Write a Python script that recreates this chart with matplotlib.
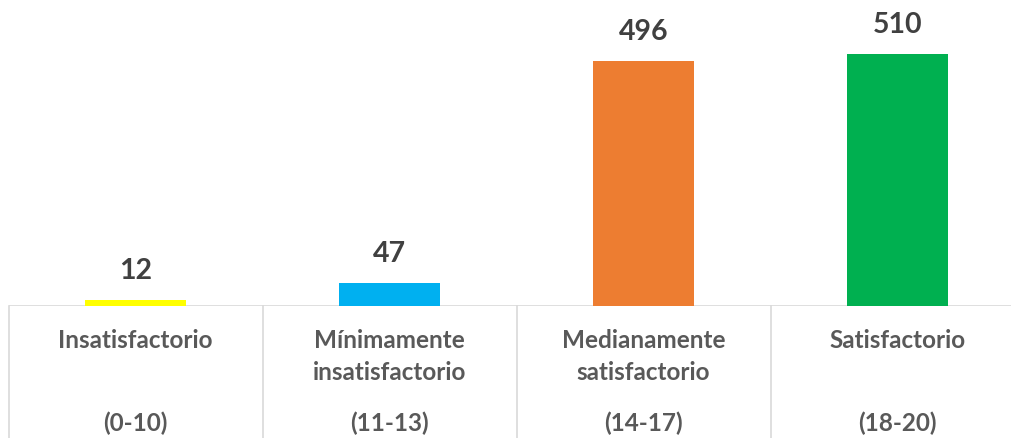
import matplotlib.pyplot as plt
import matplotlib.transforms as mtransforms

categories = ["Insatisfactorio", "Mínimamente\ninsatisfactorio", "Medianamente\nsatisfactorio", "Satisfactorio"]
ranges = ["(0-10)", "(11-13)", "(14-17)", "(18-20)"]
counts = [12, 47, 496, 510]
colors = ["#FFFF00", "#00B0F0", "#ED7D31", "#00B050"]

W, H = 1011, 438
fig = plt.figure(figsize=(W / 100, H / 100), dpi=100)
# axes spans past the right edge like the original screenshot
ax = fig.add_axes([8.5 / W, 132 / H, 1016 / W, 306 / H])
ax.bar(range(4), counts, width=0.4, color=colors)
ax.set_xlim(-0.5, 3.5)
ax.set_ylim(0, 619)
ax.axis("off")

grid = "#D9D9D9"
ax.axhline(0, color=grid, lw=1.2, zorder=0)
trans = mtransforms.blended_transform_factory(ax.transData, fig.transFigure)
for i in range(4):
    ax.plot([i - 0.5, i - 0.5], [0, 132 / H], transform=trans, color=grid, lw=1.2, clip_on=False)

font = "Lato"
for i, v in enumerate(counts):
    ax.text(i, v + 42, str(v), ha="center", va="baseline", fontsize=20.5, fontweight="bold",
            color="#404040", family=font)

for i, (c, r) in enumerate(zip(categories, ranges)):
    for k, line in enumerate(c.split("\n")):
        ax.text(i, (H - 348 - 32 * k) / H, line, transform=trans, ha="center", va="baseline",
                fontsize=17.5, fontweight="bold", color="#595959", family=font)
    ax.text(i, (H - 423) / H, r, transform=trans, ha="center", va="center", fontsize=17.5,
            fontweight="bold", color="#595959", family=font)

fig.savefig("out.png", dpi=100)
